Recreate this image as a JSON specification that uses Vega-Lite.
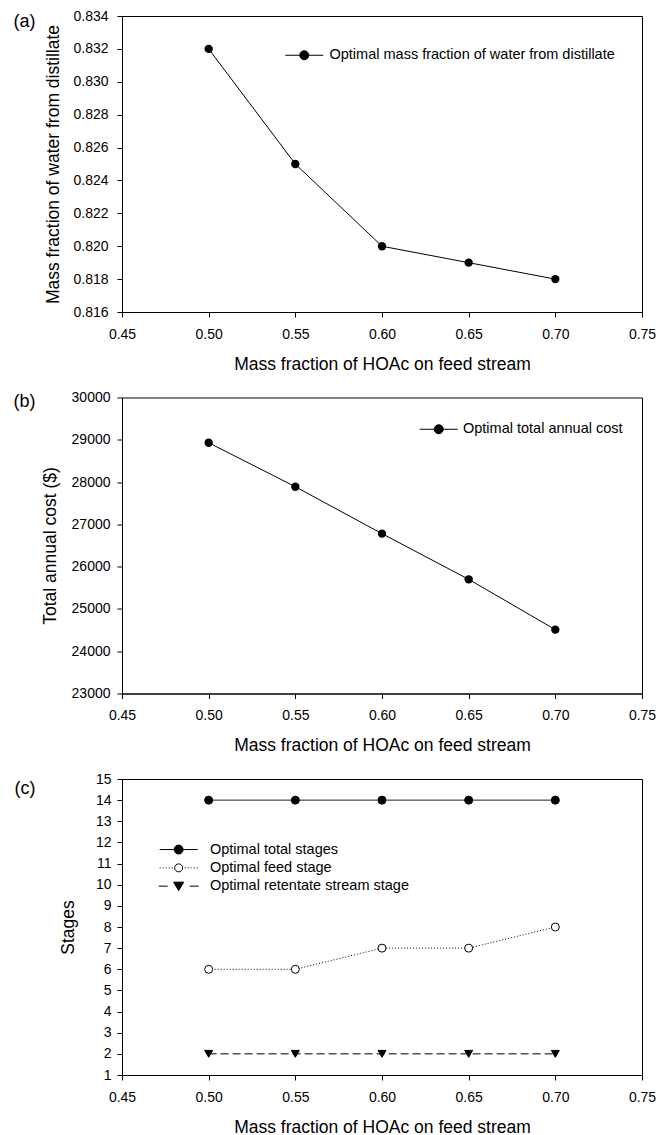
{
  "$schema": "https://vega.github.io/schema/vega-lite/v6.json",
  "padding": {"left": 12, "top": 8, "right": 5, "bottom": 5},
  "spacing": 16.5,
  "resolve": {
    "scale": {"shape": "independent", "fill": "independent", "strokeDash": "independent"},
    "legend": {"shape": "independent", "fill": "independent", "strokeDash": "independent"}
  },
  "config": {
    "font": "Liberation Sans",
    "view": {"stroke": "black", "strokeWidth": 1},
    "axis": {
      "grid": false, "domainColor": "black", "domainWidth": 1, "tickColor": "black", "tickSize": 5, "tickWidth": 1,
      "labelFont": "Liberation Sans", "labelFontSize": 14, "labelColor": "black",
      "titleFont": "Liberation Sans", "titleFontSize": 17.5, "titleFontWeight": "normal", "titleColor": "black"
    },
    "axisX": {"labelPadding": 10, "titlePadding": 14, "labelFlush": false},
    "axisY": {"labelFlush": false},
    "legend": {
      "orient": "none", "padding": 0, "title": null,
      "labelFont": "Liberation Sans", "labelFontSize": 14.5, "labelColor": "black", "labelOffset": 26, "labelLimit": 500,
      "rowPadding": 3.3, "symbolSize": 100, "symbolStrokeColor": "black", "symbolStrokeWidth": 1, "symbolOpacity": 1
    },
    "title": {"font": "Liberation Sans", "fontSize": 18, "fontWeight": "normal", "color": "black"}
  },
  "vconcat": [
    {
      "width": 520, "height": 296,
      "title": {"text": "(a)", "orient": "left", "anchor": "end", "angle": 0, "align": "left", "baseline": "top", "frame": "bounds", "offset": 9.5, "dy": 4},
      "data": {"values": [
        {"x": 0.50, "y": 0.832, "series": "Optimal mass fraction of water from distillate"},
        {"x": 0.55, "y": 0.825, "series": "Optimal mass fraction of water from distillate"},
        {"x": 0.60, "y": 0.820, "series": "Optimal mass fraction of water from distillate"},
        {"x": 0.65, "y": 0.819, "series": "Optimal mass fraction of water from distillate"},
        {"x": 0.70, "y": 0.818, "series": "Optimal mass fraction of water from distillate"}
      ]},
      "encoding": {
        "x": {"field": "x", "type": "quantitative", "scale": {"domain": [0.45, 0.75], "nice": false, "zero": false},
          "axis": {"title": "Mass fraction of HOAc on feed stream", "values": [0.45, 0.5, 0.55, 0.6, 0.65, 0.7, 0.75], "format": ".2f"}},
        "y": {"field": "y", "type": "quantitative", "scale": {"domain": [0.816, 0.834], "nice": false, "zero": false},
          "axis": {"title": "Mass fraction of water from distillate", "values": [0.816, 0.818, 0.82, 0.822, 0.824, 0.826, 0.828, 0.83, 0.832, 0.834], "format": ".3f", "labelPadding": 9, "titlePadding": 10}}
      },
      "layer": [
        {"mark": {"type": "line", "color": "black", "strokeWidth": 1}},
        {"mark": {"type": "point", "filled": true, "color": "black", "size": 70, "opacity": 1}},
        {"mark": {"type": "point", "filled": false, "stroke": "black", "strokeWidth": 1, "opacity": 0, "size": 100},
          "encoding": {
            "shape": {"field": "series", "type": "nominal", "scale": {"range": ["M-3.8,0H-0.9M0.9,0H3.8M0.9,0A0.9,0.9,0,1,1,-0.9,0A0.9,0.9,0,1,1,0.9,0Z"]},
              "legend": {"legendX": 175, "legendY": 32, "labelOffset": 18, "encode": {"symbols": {"update": {"stroke": {"value": "black"}, "strokeWidth": {"value": 1}, "opacity": {"value": 1}}}}}},
            "fill": {"field": "series", "type": "nominal", "scale": {"range": ["black"]},
              "legend": {"legendX": 175, "legendY": 32, "labelOffset": 18, "encode": {"symbols": {"update": {"stroke": {"value": "black"}, "strokeWidth": {"value": 1}, "opacity": {"value": 1}}}}}}
          }}
      ]
    },
    {
      "width": 520, "height": 296,
      "title": {"text": "(b)", "orient": "left", "anchor": "end", "angle": 0, "align": "left", "baseline": "top", "frame": "bounds", "offset": 5.6, "dy": 2},
      "data": {"values": [
        {"x": 0.50, "y": 28930, "series": "Optimal total annual cost"},
        {"x": 0.55, "y": 27890, "series": "Optimal total annual cost"},
        {"x": 0.60, "y": 26780, "series": "Optimal total annual cost"},
        {"x": 0.65, "y": 25700, "series": "Optimal total annual cost"},
        {"x": 0.70, "y": 24510, "series": "Optimal total annual cost"}
      ]},
      "encoding": {
        "x": {"field": "x", "type": "quantitative", "scale": {"domain": [0.45, 0.75], "nice": false, "zero": false},
          "axis": {"title": "Mass fraction of HOAc on feed stream", "values": [0.45, 0.5, 0.55, 0.6, 0.65, 0.7, 0.75], "format": ".2f"}},
        "y": {"field": "y", "type": "quantitative", "scale": {"domain": [23000, 30000], "nice": false, "zero": false},
          "axis": {"title": "Total annual cost ($)", "values": [23000, 24000, 25000, 26000, 27000, 28000, 29000, 30000], "format": "d", "labelPadding": 7, "titlePadding": 12}}
      },
      "layer": [
        {"mark": {"type": "line", "color": "black", "strokeWidth": 1}},
        {"mark": {"type": "point", "filled": true, "color": "black", "size": 70, "opacity": 1}},
        {"mark": {"type": "point", "filled": false, "stroke": "black", "strokeWidth": 1, "opacity": 0, "size": 100},
          "encoding": {
            "shape": {"field": "series", "type": "nominal", "scale": {"range": ["M-3.8,0H-0.9M0.9,0H3.8M0.9,0A0.9,0.9,0,1,1,-0.9,0A0.9,0.9,0,1,1,0.9,0Z"]},
              "legend": {"legendX": 309.5, "legendY": 24.5, "labelOffset": 17, "encode": {"symbols": {"update": {"stroke": {"value": "black"}, "strokeWidth": {"value": 1}, "opacity": {"value": 1}}}}}},
            "fill": {"field": "series", "type": "nominal", "scale": {"range": ["black"]},
              "legend": {"legendX": 309.5, "legendY": 24.5, "labelOffset": 17, "encode": {"symbols": {"update": {"stroke": {"value": "black"}, "strokeWidth": {"value": 1}, "opacity": {"value": 1}}}}}}
          }}
      ]
    },
    {
      "width": 520, "height": 296,
      "title": {"text": "(c)", "orient": "left", "anchor": "end", "angle": 0, "align": "left", "baseline": "top", "frame": "bounds", "offset": 23.9, "dy": 8},
      "data": {"values": [
        {"x": 0.50, "y": 14, "series": "Optimal total stages"},
        {"x": 0.55, "y": 14, "series": "Optimal total stages"},
        {"x": 0.60, "y": 14, "series": "Optimal total stages"},
        {"x": 0.65, "y": 14, "series": "Optimal total stages"},
        {"x": 0.70, "y": 14, "series": "Optimal total stages"},
        {"x": 0.50, "y": 6, "series": "Optimal feed stage"},
        {"x": 0.55, "y": 6, "series": "Optimal feed stage"},
        {"x": 0.60, "y": 7, "series": "Optimal feed stage"},
        {"x": 0.65, "y": 7, "series": "Optimal feed stage"},
        {"x": 0.70, "y": 8, "series": "Optimal feed stage"},
        {"x": 0.50, "y": 2, "series": "Optimal retentate stream stage"},
        {"x": 0.55, "y": 2, "series": "Optimal retentate stream stage"},
        {"x": 0.60, "y": 2, "series": "Optimal retentate stream stage"},
        {"x": 0.65, "y": 2, "series": "Optimal retentate stream stage"},
        {"x": 0.70, "y": 2, "series": "Optimal retentate stream stage"}
      ]},
      "encoding": {
        "x": {"field": "x", "type": "quantitative", "scale": {"domain": [0.45, 0.75], "nice": false, "zero": false},
          "axis": {"title": "Mass fraction of HOAc on feed stream", "values": [0.45, 0.5, 0.55, 0.6, 0.65, 0.7, 0.75], "format": ".2f"}},
        "y": {"field": "y", "type": "quantitative", "scale": {"domain": [1, 15], "nice": false, "zero": false},
          "axis": {"title": "Stages", "values": [1, 2, 3, 4, 5, 6, 7, 8, 9, 10, 11, 12, 13, 14, 15], "format": "d", "labelPadding": 6, "titlePadding": 18}}
      },
      "resolve": {"scale": {"shape": "independent", "fill": "independent"}},
      "layer": [
        {"mark": {"type": "line", "color": "black", "strokeWidth": 1},
          "encoding": {
            "strokeDash": {"field": "series", "type": "nominal",
              "scale": {"domain": ["Optimal total stages", "Optimal feed stage", "Optimal retentate stream stage"], "range": [[1, 0], [1, 2], [8, 4]]}, "legend": null}
          }},
        {"mark": {"type": "point", "filled": true, "stroke": "black", "strokeWidth": 1, "size": 64, "opacity": 1},
          "encoding": {
            "shape": {"field": "series", "type": "nominal",
              "scale": {"domain": ["Optimal total stages", "Optimal feed stage", "Optimal retentate stream stage"], "range": ["circle", "circle", "triangle-down"]}, "legend": null},
            "fill": {"field": "series", "type": "nominal",
              "scale": {"domain": ["Optimal total stages", "Optimal feed stage", "Optimal retentate stream stage"], "range": ["black", "white", "black"]}, "legend": null}
          }},
        {"mark": {"type": "point", "filled": false, "stroke": "black", "strokeWidth": 1, "opacity": 0, "size": 100},
          "encoding": {
            "shape": {"field": "series", "type": "nominal",
              "scale": {"domain": ["Optimal total stages", "Optimal feed stage", "Optimal retentate stream stage"],
                "range": [
                  "M-3.8,0H-0.9M0.9,0H3.8M0.9,0A0.9,0.9,0,1,1,-0.9,0A0.9,0.9,0,1,1,0.9,0Z",
                  "M-3.8,0H-3.6M-3.2,0H-3M-2.6,0H-2.4M-2,0H-1.8M-1.4,0H-1.2M1.2,0H1.4M1.8,0H2M2.4,0H2.6M3,0H3.2M3.6,0H3.8M0.8,0A0.8,0.8,0,1,1,-0.8,0A0.8,0.8,0,1,1,0.8,0Z",
                  "M-4,0H-2.2M2.2,0H4M-1,-0.8L1,-0.8L0,0.9Z"
                ]},
              "legend": {"legendX": 49.4, "legendY": 63.3, "labelOffset": 24, "encode": {"symbols": {"update": {"stroke": {"value": "black"}, "strokeWidth": {"value": 1}, "opacity": {"value": 1}}}}}},
            "fill": {"field": "series", "type": "nominal",
              "scale": {"domain": ["Optimal total stages", "Optimal feed stage", "Optimal retentate stream stage"], "range": ["black", "white", "black"]},
              "legend": {"legendX": 49.4, "legendY": 63.3, "labelOffset": 24, "encode": {"symbols": {"update": {"stroke": {"value": "black"}, "strokeWidth": {"value": 1}, "opacity": {"value": 1}}}}}}
          }}
      ]
    }
  ]
}
